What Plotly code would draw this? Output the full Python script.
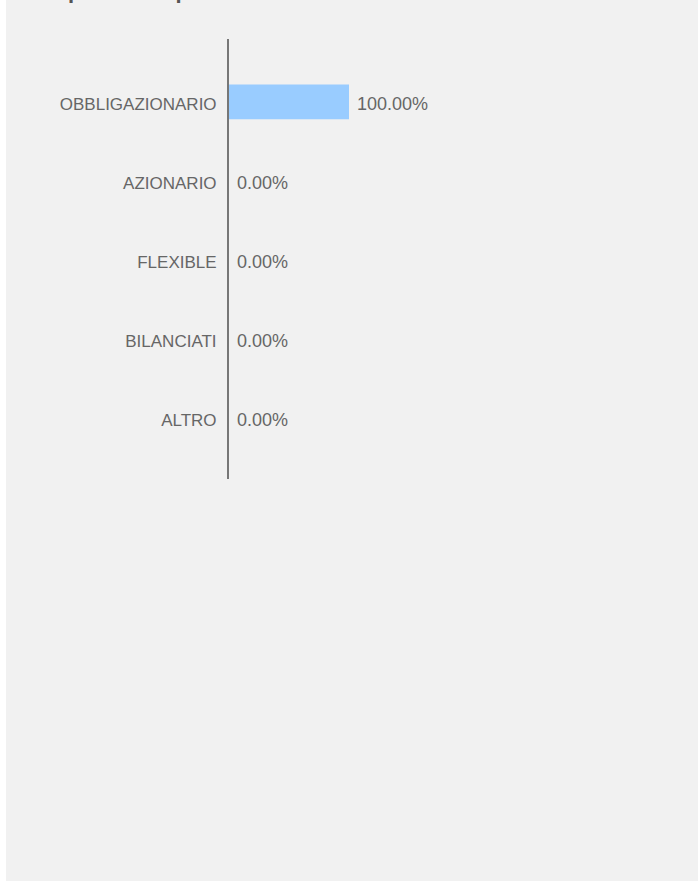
import plotly.graph_objects as go

categories = ["OBBLIGAZIONARIO", "AZIONARIO", "FLEXIBLE", "BILANCIATI", "ALTRO"]
values = [100.0, 0.0, 0.0, 0.0, 0.0]
value_labels = ["100.00%", "0.00%", "0.00%", "0.00%", "0.00%"]
title_text = "Esposizione per asset class"

W, H = 698, 881
L, T, B, R = 229, 39, 402, 49
pw, ph = W - L - R, H - T - B

fig = go.Figure()
fig.add_trace(go.Bar(
    x=values, y=categories, orientation="h",
    marker=dict(color="#99ccff", line=dict(width=0)),
    hoverinfo="skip", showlegend=False,
))

for v, c, t in zip(values, categories, value_labels):
    fig.add_annotation(x=v, y=c, xref="x", yref="y", text=t, showarrow=False,
                       xanchor="left", yanchor="middle", xshift=6, yshift=-2,
                       font=dict(size=18, color="#666666", family="Liberation Sans, Arial"))

# cut-off title at the top of the page
fig.add_annotation(xref="paper", yref="paper", x=(39 - L) / pw, y=(H - B - 5) / ph,
                   xanchor="left", yanchor="bottom", text="<b>" + title_text + "</b>",
                   showarrow=False, font=dict(size=22, color="#555555", family="Liberation Sans, Arial"))

# white strip at left edge
fig.add_shape(type="rect", xref="paper", yref="paper",
              x0=(0 - L) / pw, x1=(6 - L) / pw,
              y0=(H - B - H) / ph, y1=(H - B) / ph,
              fillcolor="white", line=dict(width=0), layer="above")

fig.update_layout(
    width=W, height=H,
    margin=dict(l=L, r=R, t=T, b=B, pad=0),
    paper_bgcolor="#f1f1f1", plot_bgcolor="#f1f1f1",
    bargap=0.56,
    font=dict(family="Liberation Sans, Arial", color="#666666"),
    xaxis=dict(range=[0, 350], visible=False, fixedrange=True),
    yaxis=dict(categoryorder="array", categoryarray=categories,
               range=[4.773, -0.797],
               showline=True, linecolor="#777777", linewidth=2,
               showgrid=False, zeroline=False, ticks="",
               ticklabelstandoff=7, ticklabelshift=-2,
               tickfont=dict(size=17, color="#666666", family="Liberation Sans, Arial"),
               fixedrange=True),
)

fig.write_html("out.html", config={"displayModeBar": False},
               post_script="document.body.style.margin='0';document.body.style.overflow='hidden';")
